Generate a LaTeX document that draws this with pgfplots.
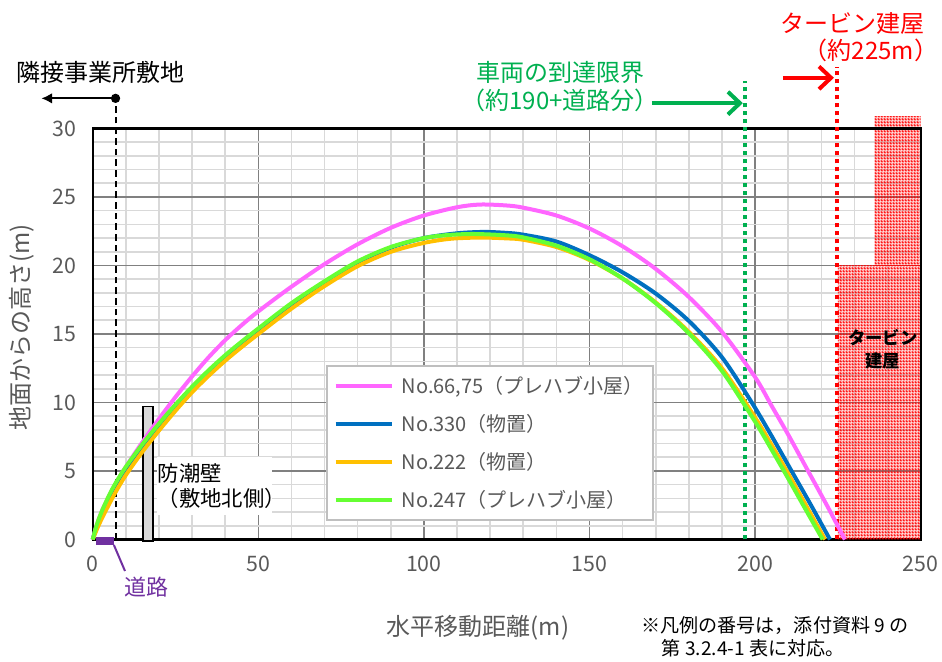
\documentclass[border=0pt]{standalone}
\usepackage{fontspec}
\setmainfont{Noto Sans CJK JP}
\usepackage{pgfplots}
\pgfplotsset{compat=1.18}
\usetikzlibrary{arrows.meta,patterns}
\definecolor{cpink}{HTML}{FF66FF}
\definecolor{cblue}{HTML}{0070C0}
\definecolor{corange}{HTML}{FFC000}
\definecolor{cgreen}{HTML}{66FF33}
\definecolor{tgreen}{HTML}{00B050}
\definecolor{cpurple}{HTML}{7030A0}
\definecolor{tgray}{HTML}{595959}
\definecolor{gmajor}{HTML}{808080}
\definecolor{gminor}{HTML}{D9D9D9}
\definecolor{lgray}{HTML}{BFBFBF}
\pgfdeclarepatternformonly{checker}{\pgfqpoint{0pt}{0pt}}{\pgfqpoint{2pt}{2pt}}{\pgfqpoint{2pt}{2pt}}{%
  \pgfseteorule
  \pgfpathrectangle{\pgfqpoint{0pt}{0pt}}{\pgfqpoint{2pt}{2pt}}%
  \pgfpathrectangle{\pgfqpoint{0.45pt}{0.45pt}}{\pgfqpoint{1.1pt}{1.1pt}}%
  \pgfusepath{fill}}
\newcommand{\fs}[1]{\fontsize{#1}{#1}\selectfont}
\begin{document}
\begin{tikzpicture}
\begin{axis}[
  scale only axis, width=621pt, height=308.25pt,
  xmin=0, xmax=250, ymin=0, ymax=30,
  xtick={0,50,...,250}, ytick={0,5,...,30},
  minor x tick num=4, minor y tick num=4,
  grid=both,
  major grid style={draw=gmajor, line width=1.2pt},
  minor grid style={draw=gminor, line width=1.2pt},
  axis line style={black, line width=1.6pt},
  major tick length=0pt, minor tick length=0pt,
  /pgf/number format/assume math mode=true,
  ticklabel style={font=\fs{16}, text=tgray},
  xticklabel style={yshift=-9pt},
  yticklabel style={xshift=-9pt},
  clip=false,
  legend style={at={(0.2818,0.4246)}, anchor=north west, draw=lgray, line width=1.5pt,
    fill=white, font=\fs{15}, text=tgray, inner xsep=5pt, inner ysep=6pt, row sep=10pt,
    /tikz/every odd column/.append style={column sep=4pt}},
  legend cell align=left,
  legend image code/.code={\draw[#1, line width=3pt] (0pt,0pt) -- (42pt,0pt);},
]
% building hatch
\fill[pattern=checker, pattern color=red] (axis cs:225,0) rectangle (axis cs:250,20);
\fill[pattern=checker, pattern color=red] (axis cs:236,20) rectangle (axis cs:250,30.9);
\draw[black, line width=1.6pt] (axis cs:250,0) -- (axis cs:250,30) -- (axis cs:0,30);
\node[font=\bfseries\fs{13}, align=center, inner sep=0pt] at (axis cs:238.6,13.9) {タービン\\[4pt]建屋};
% wall
\draw[black, line width=1.2pt, fill=gminor] (axis cs:15.2,-0.1) rectangle (axis cs:18.2,9.7);
\fill[white] (axis cs:19.3,1.8) rectangle (axis cs:54.1,6.0);
\node[anchor=west, align=left, font=\fs{16}, inner sep=0pt] at (axis cs:19.6,3.9) {防潮壁\\[3pt]（敷地北側）};
% dashed border line
\draw[black, line width=1.5pt, dash pattern=on 5pt off 3pt] (axis cs:6.9,0) -- (axis cs:6.9,32.2);
\draw[black, line width=1.5pt, -{Latex[length=8pt,width=8pt]}] (axis cs:6.9,32.2) -- (axis cs:-15.5,32.2);
\fill[black] (axis cs:6.9,32.2) circle (3.5pt);
\node[font=\fs{18}, inner sep=0pt] at (axis cs:2.5,34.1) {隣接事業所敷地};
% green
\draw[tgreen, line width=3pt, dash pattern=on 3pt off 3pt] (axis cs:197,0) -- (axis cs:197,33.5);
\draw[tgreen, line width=3pt, -{Straight Barb[length=9pt,width=17pt]}] (axis cs:168.8,31.85) -- (axis cs:196.3,31.85);
\node[text=tgreen, font=\fs{18}, align=center, inner sep=0pt] at (axis cs:141.1,33.05) {車両の到達限界\\[3pt]（約190+道路分）};
% red
\draw[red, line width=3pt, dash pattern=on 3pt off 3pt] (axis cs:224.8,0) -- (axis cs:224.8,34.5);
\draw[red, line width=3pt, -{Straight Barb[length=9pt,width=17pt]}] (axis cs:208.4,33.7) -- (axis cs:223.8,33.7);
\node[text=red, font=\fs{18}, inner sep=0pt] at (axis cs:229.5,37.7) {タービン建屋};
\node[text=red, font=\fs{18}, inner sep=0pt] at (axis cs:235,35.7) {（約225m）};
% road
\fill[cpurple] (axis cs:1.0,0.16) rectangle (axis cs:6.4,-0.38);
\draw[cpurple, line width=1.5pt] (axis cs:6.4,-0.4) -- (axis cs:9.75,-2.3);
\node[text=cpurple, font=\fs{16.5}, inner sep=0pt] at (axis cs:16.1,-3.47) {道路};
% curves
\addplot[cpink, line width=3pt, smooth] coordinates {
(0,0)(1,0.9)(2,1.6)(3,2.2)(5,3.2)(7,4.1)(10,5.3)(15,7.1)(20,8.8)(25,10.4)(30,11.9)(35,13.3)(40,14.55)(45,15.65)(50,16.65)(60,18.45)(70,20.1)(80,21.55)(90,22.75)(100,23.65)(110,24.25)(117,24.45)(125,24.38)(130,24.22)(140,23.65)(150,22.7)(160,21.4)(170,19.75)(180,17.7)(190,15.15)(200,11.85)(205,9.75)(210,7.65)(216,5.0)(222,2.35)(227.1,0)};
\addlegendentry{No.66,75（プレハブ小屋）}
\addplot[cblue, line width=3pt, smooth] coordinates {
(0,0)(1,0.75)(2,1.35)(3,1.9)(5,2.9)(7,3.8)(10,4.95)(15,6.65)(20,8.2)(25,9.65)(30,10.98)(35,12.2)(40,13.3)(45,14.3)(50,15.25)(60,17.1)(70,18.75)(80,20.2)(90,21.3)(100,22.0)(110,22.35)(118,22.45)(125,22.38)(130,22.25)(140,21.75)(150,20.75)(160,19.5)(170,17.95)(180,15.95)(190,13.3)(199,10.0)(205,7.55)(211,5.0)(217,2.45)(222.6,0)};
\addlegendentry{No.330（物置）}
\addplot[corange, line width=3pt, smooth] coordinates {
(0,0)(1,0.6)(2,1.15)(3,1.65)(5,2.6)(7,3.5)(10,4.7)(15,6.4)(20,7.95)(25,9.4)(30,10.75)(35,11.95)(40,13.05)(45,14.05)(50,15.0)(60,16.85)(70,18.5)(80,19.95)(90,21.0)(100,21.65)(108,21.95)(117,22.04)(125,21.98)(130,21.88)(140,21.35)(150,20.4)(160,19.05)(170,17.3)(180,15.15)(190,12.5)(200,8.9)(205,6.9)(210,4.8)(215,2.65)(221.1,0)};
\addlegendentry{No.222（物置）}
\addplot[cgreen, line width=3pt, smooth] coordinates {
(0,0)(1,0.9)(2,1.6)(3,2.2)(5,3.25)(7,4.15)(10,5.3)(15,6.95)(20,8.45)(25,9.85)(30,11.15)(35,12.35)(40,13.45)(45,14.45)(50,15.4)(60,17.25)(70,18.85)(80,20.3)(90,21.35)(100,22.0)(107,22.22)(115,22.3)(125,22.2)(130,22.05)(140,21.45)(150,20.45)(160,19.05)(170,17.25)(180,15.05)(190,12.3)(200,8.6)(205,6.55)(210,4.45)(215,2.3)(220.4,0)};
\addlegendentry{No.247（プレハブ小屋）}
% labels
\node[text=tgray, font=\fs{18}, inner sep=0pt] at (axis cs:116.3,-6.46) {水平移動距離(m)};
\node[text=tgray, font=\fs{18}, inner sep=0pt, rotate=90] at (axis cs:-21.3,15.5) {地面からの高さ(m)};
\node[anchor=west, font=\fs{14.3}, inner sep=0pt] at (axis cs:165.6,-6.31) {※凡例の番号は，添付資料 9 の};
\node[anchor=west, font=\fs{14.3}, inner sep=0pt] at (axis cs:171.8,-7.92) {第 3.2.4-1 表に対応。};
\coordinate (bbBL) at (axis cs:-27.99,-8.87);
\coordinate (bbTR) at (axis cs:256.43,39.38);
\end{axis}
\pgfresetboundingbox
\path[use as bounding box] (bbBL) rectangle (bbTR);
\end{tikzpicture}
\end{document}
